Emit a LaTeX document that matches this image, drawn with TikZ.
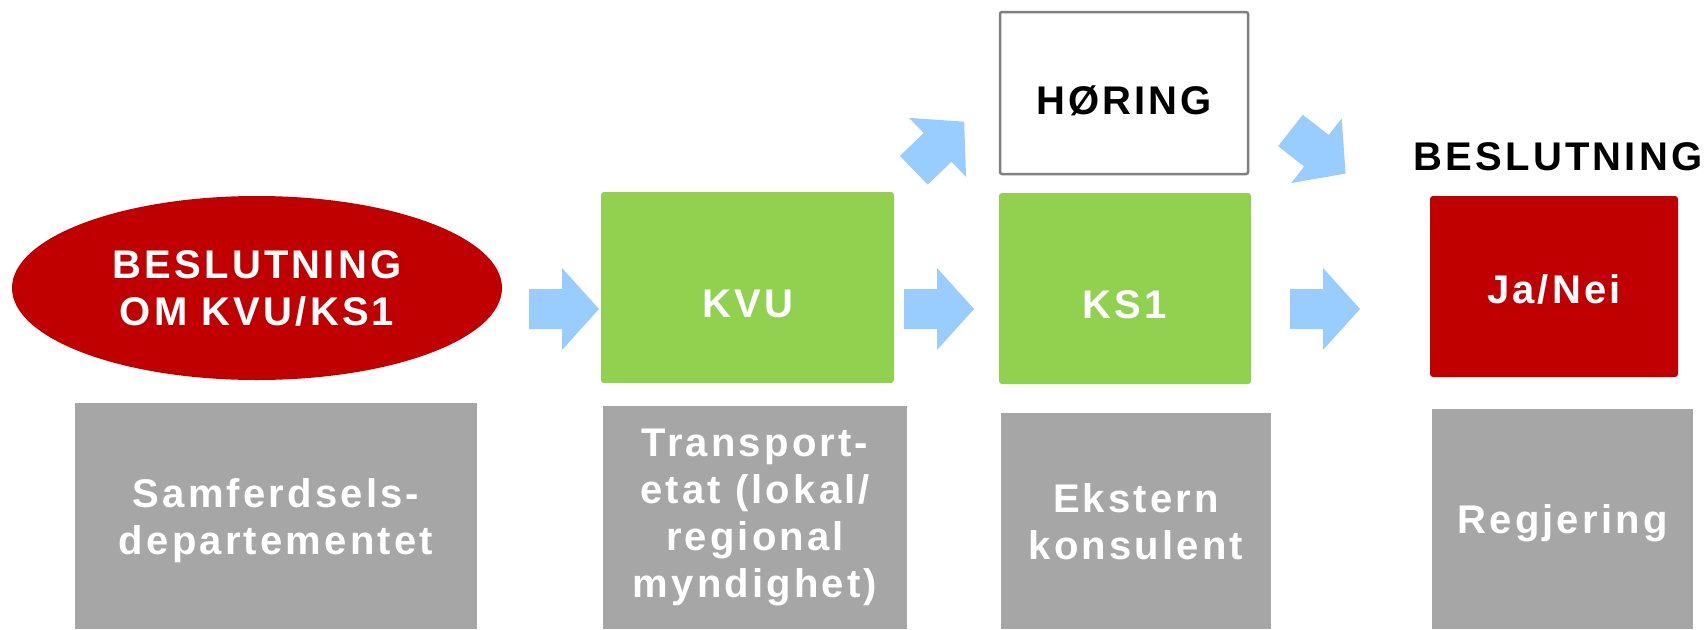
\documentclass[tikz,border=0pt]{standalone}
\usepackage{fontspec}
\setmainfont{Liberation Sans}[LetterSpace=8]
\usetikzlibrary{shapes.geometric}
\definecolor{kvured}{HTML}{C00000}
\definecolor{kvugreen}{HTML}{92D050}
\definecolor{kvublue}{HTML}{99CCFF}
\definecolor{kvugray}{HTML}{A6A6A6}
\tikzset{
    pics/blockarrow/.style={code={
        \fill[kvublue] (-35,-20) -- (-2,-20) -- (-2,-41) -- (35,0) -- (-2,41) -- (-2,20) -- (-35,20) -- cycle;
    }}
}
\begin{document}
\begin{tikzpicture}[x=1pt, y=-1pt,
        every node/.style={font=\fontsize{40}{47}\selectfont\bfseries, align=center, inner sep=0pt},
        phase/.style={rectangle, rounded corners=3pt, fill=#1, text=white},
        who/.style={rectangle, fill=kvugray, text=white}]
    \useasboundingbox (0,0) rectangle (1707,629);
    \node (bes) [ellipse, fill=kvured, text=white, minimum width=490pt, minimum height=184pt] at (257,288) {BESLUTNING\\OM KVU/KS1};
    \node (kvu) [phase=kvugreen, minimum width=293pt, minimum height=191pt, text height=59pt, text depth=0pt] at (747.5,287.5) {KVU};
    \node (ks1) [phase=kvugreen, minimum width=252pt, minimum height=191pt, text height=59pt, text depth=0pt] at (1125,288.5) {KS1};
    \node (horing) [rectangle, rounded corners=2pt, draw=gray, line width=2.5pt, fill=white, minimum width=248pt, minimum height=162pt, text height=42pt, text depth=0pt] at (1124,93) {HØRING};
    \node (janei) [phase=kvured, minimum width=248pt, minimum height=181pt, text height=33pt, text depth=0pt] at (1554,286.5) {Ja/Nei};
    \node (beslut) [anchor=base] at (1558,170) {BESLUTNING};
    \node (sd) [who, minimum width=402pt, minimum height=226pt, text depth=0pt] at (276,516) {Samferdsels-\\departementet};
    \node (etat) [who, minimum width=304pt, minimum height=223pt] at (755,517.5) {Transport-\\etat (lokal/\\regional\\myndighet)};
    \node (ekstern) [who, minimum width=270pt, minimum height=216pt, text depth=0pt] at (1136,521) {Ekstern\\konsulent};
    \node (regj) [who, minimum width=261pt, minimum height=220pt, text depth=0pt] at (1562.5,519) {Regjering};
    \pic at (564,309) {blockarrow};
    \pic at (939,309) {blockarrow};
    \pic at (1325,309) {blockarrow};
    \pic[rotate=44] at (939,146) {blockarrow};
    \pic[rotate=-38] at (1318,152) {blockarrow};
\end{tikzpicture}
\end{document}
